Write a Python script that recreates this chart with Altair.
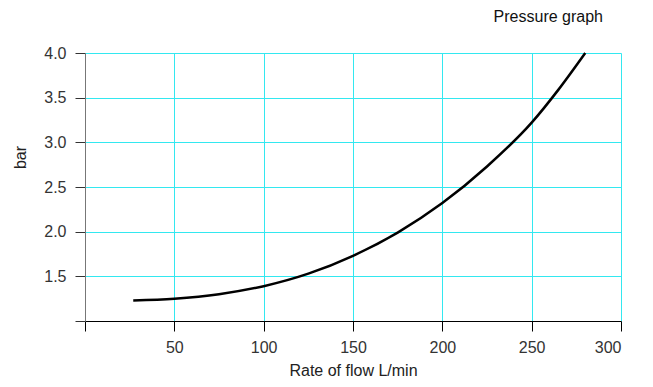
import altair as alt
import pandas as pd

flow = [27, 50, 75, 100, 125, 150, 175, 200, 225, 250, 265, 280]
pressure = [1.23, 1.25, 1.30, 1.39, 1.53, 1.73, 1.99, 2.32, 2.73, 3.22, 3.59, 4.00]
x_ticks = [0, 50, 100, 150, 200, 250, 300]
y_ticks = [1.0, 1.5, 2.0, 2.5, 3.0, 3.5, 4.0]

df = pd.DataFrame({"flow": flow, "pressure": pressure})

FONT = "Liberation Sans"
GRID = "#33e8f0"

chart = alt.Chart(df).mark_line(color="black", strokeWidth=2.5, interpolate="monotone").encode(
    x=alt.X("flow:Q", scale=alt.Scale(domain=[0, 300], nice=False, zero=False),
            axis=alt.Axis(values=x_ticks, title="Rate of flow L/min",
                          labelExpr="datum.value == 0 ? '' : datum.label",
                          grid=True, gridColor=GRID, gridWidth=1,
                          domainColor="black", tickColor="black", tickSize=10,
                          labelFont=FONT, labelFontSize=16, labelColor="#333333",
                          labelPadding=8, titleFont=FONT, titleFontSize=16,
                          titleFontWeight="normal", titleColor="#222222",
                          titleX=268, titleY=54, titleBaseline="alphabetic", titleAlign="center")),
    y=alt.Y("pressure:Q", scale=alt.Scale(domain=[1.0, 4.0], nice=False, zero=False),
            axis=alt.Axis(values=y_ticks, title="bar", format=".1f",
                          labelExpr="datum.value == 1 ? '' : datum.label",
                          grid=True, gridColor=GRID, gridWidth=1,
                          domainColor="#777777", tickColor="#333333", tickSize=10,
                          labelFont=FONT, labelFontSize=16, labelColor="#333333",
                          labelPadding=9, titleFont=FONT, titleFontSize=16,
                          titleFontWeight="normal", titleColor="#222222",
                          titleX=-57, titleY=104, titleAlign="center")),
).properties(
    width=536, height=268,
    title=alt.TitleParams("Pressure graph", anchor="end", frame="group", font=FONT,
                          fontSize=16, fontWeight="normal", color="#111111", dx=-18, offset=20),
    autosize=alt.AutoSizeParams(type="none"),
    padding={"left": 77, "top": 45, "right": 24, "bottom": 58},
).configure_view(stroke=None)

chart.save("out.html", embed_options={"renderer": "svg", "actions": False})
